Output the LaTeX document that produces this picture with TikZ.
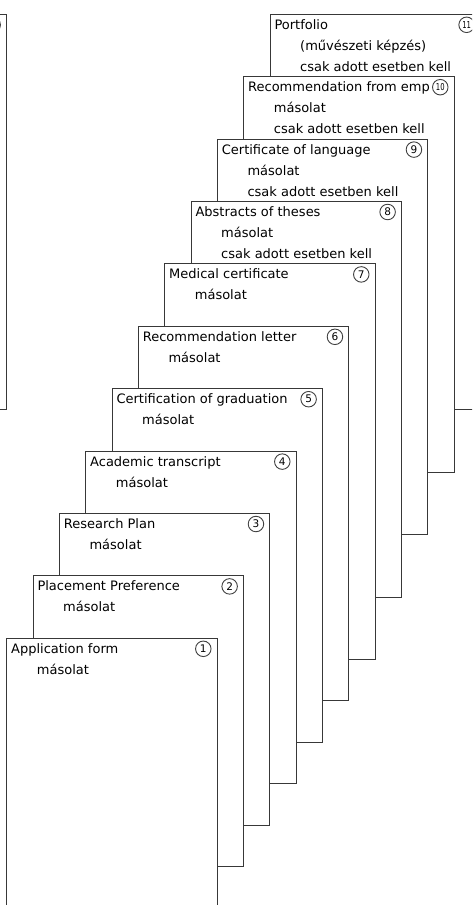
\documentclass[tikz,border=0pt]{standalone}
\usepackage{fontspec}
\setmainfont{DejaVu Sans}
\usetikzlibrary{calc}
\newcommand\doccard[5]{%
  % #1 index, #2 bottom y, #3 title, #4 line 2, #5 line 3 (may be empty)
  \pgfmathsetmacro\cardleft{6.7+(#1-1)*26.33}%
  \pgfmathsetmacro\cardtop{638.3-(#1-1)*62.4}%
  \pgfmathsetmacro\cardht{#2-\cardtop}%
  \node[cardbox, anchor=north west, minimum width=210.6pt, minimum height=\cardht pt] (card#1) at (\cardleft,\cardtop) {};
  \node[cardtext] (card#1-t) at ($(card#1.north west)+(4.3,15)$) {#3};
  \node[cardtext] (card#1-a) at ($(card#1.north west)+(30,36)$) {#4};
  \if\relax\detokenize{#5}\relax\else
    \node[cardtext] (card#1-b) at ($(card#1.north west)+(30,57)$) {#5};
  \fi
  \ifnum#1>9
    \node[numcircle, font=\fontsize{9.5}{10}\selectfont] (card#1-n) at ($(card#1.north east)+(-14,10.5)$) {\scalebox{0.72}[1]{#1}};
  \else
    \node[numcircle] (card#1-n) at ($(card#1.north east)+(-14,10.5)$) {#1};
  \fi
}
\begin{document}
\begin{tikzpicture}[x=1pt,y=-1pt,
  cardbox/.style={draw=black!78, fill=white, line width=1pt, inner sep=0pt, outer sep=0pt},
  cardtext/.style={anchor=base west, inner sep=0pt, font=\fontsize{13}{15}\selectfont, text=black},
  numcircle/.style={circle, draw=black!75, line width=0.9pt, minimum size=15.5pt, inner sep=0pt, fill=white, font=\fontsize{10.5}{11}\selectfont}
]
\useasboundingbox (0,0) rectangle (472,905);
\clip (0,0) rectangle (472,905);
% partly visible card at the left edge
\node[cardbox, anchor=north east, minimum width=210.6pt, minimum height=395pt] (card0) at (6.7,14.3) {};
\node[numcircle] (card0-n) at ($(card0.north east)+(-14,10.5)$) {};
% the stack, back to front
\doccard{11}{409}{Portfolio}{(művészeti képzés)}{csak adott esetben kell}
\doccard{10}{472}{Recommendation from emp}{másolat}{csak adott esetben kell}
\doccard{9}{534}{Certificate of language}{másolat}{csak adott esetben kell}
\doccard{8}{597}{Abstracts of theses}{másolat}{csak adott esetben kell}
\doccard{7}{659}{Medical certificate}{másolat}{}
\doccard{6}{700.3}{Recommendation letter}{másolat}{}
\doccard{5}{742}{Certification of graduation}{másolat}{}
\doccard{4}{783.3}{Academic transcript}{másolat}{}
\doccard{3}{825}{Research Plan}{másolat}{}
\doccard{2}{866.7}{Placement Preference}{másolat}{}
\doccard{1}{950}{Application form}{másolat}{}
\end{tikzpicture}
\end{document}
